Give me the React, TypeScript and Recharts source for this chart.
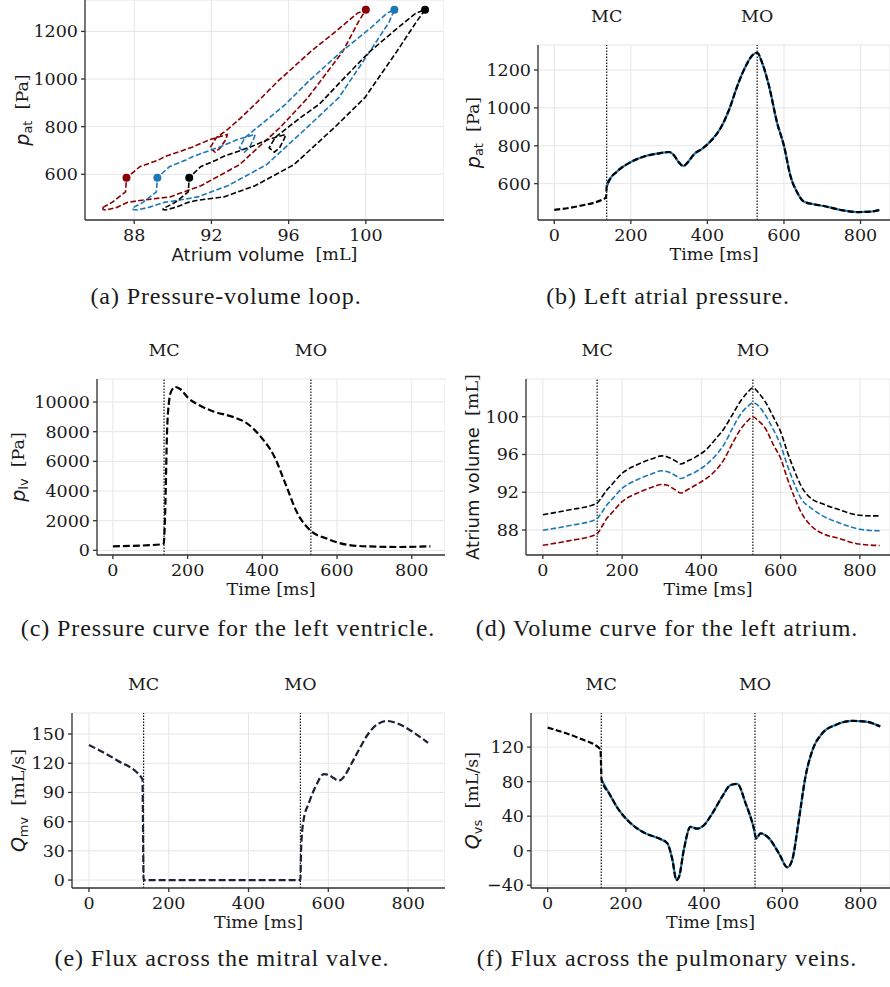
import React from "react";
import {
  LineChart,
  Line,
  XAxis,
  YAxis,
  CartesianGrid,
  ReferenceLine,
  ReferenceDot,
} from "recharts";

const SERIF = "'DejaVu Serif', serif";
const SANS = "'DejaVu Sans', sans-serif";
const CAPTION_FONT = "'Liberation Serif', 'Times New Roman', serif";
const INK = "#1a1a1a";
const RED = "#8b0000";
const BLUE = "#1f77b4";
const BLACK = "#000000";

// shared time grid (ms) for atrial pressure and atrial volume
const TIME = [
  0, 65, 135, 137, 148, 162, 170, 200, 239, 274, 300, 313, 326, 337, 348, 365,
  387, 413, 435, 457, 478, 500, 517, 530, 543, 561, 582, 600, 617, 635, 652,
  678, 704, 748, 792, 826, 850,
];
const P_AT = [
  461, 482, 526, 585, 632, 660, 675, 714, 746, 760, 767, 749, 711, 693, 711,
  755, 785, 834, 895, 992, 1115, 1220, 1277, 1291, 1238, 1115, 922, 800, 640,
  552, 505, 491, 482, 461, 450, 452, 461,
];
const VOL_BLACK = [
  89.62, 90.12, 90.8, 90.85, 91.44, 92.26, 92.62, 94.0, 94.94, 95.52, 95.85,
  95.77, 95.53, 95.26, 94.99, 95.31, 95.78, 96.55, 97.6, 98.73, 100.2, 101.73,
  102.6, 103.07, 102.6, 101.6, 99.95, 98.42, 96.27, 94.26, 92.65, 91.3, 90.8,
  90.15, 89.6, 89.5, 89.5,
];
const VOL_BLUE = [
  87.97, 88.45, 89.15, 89.2, 89.82, 90.68, 91.04, 92.4, 93.35, 93.94, 94.27,
  94.19, 93.96, 93.71, 93.45, 93.75, 94.2, 94.95, 95.85, 97.05, 98.73, 100.33,
  101.1, 101.48, 101.2, 100.2, 98.6, 97.0, 94.85, 92.85, 91.3, 90.3, 89.55,
  88.75, 88.15, 87.95, 87.92,
];
const VOL_RED = [
  86.38, 86.85, 87.55, 87.6, 88.29, 89.26, 89.62, 91.0, 91.93, 92.51, 92.82,
  92.77, 92.46, 92.19, 91.92, 92.27, 92.79, 93.48, 94.27, 95.46, 97.14, 98.74,
  99.57, 100.0, 99.6, 98.8, 97.0, 95.6, 93.45, 91.46, 89.85, 88.4, 87.66, 87.1,
  86.55, 86.4, 86.36,
];

// left ventricle pressure
const T_LV = [
  0, 131, 136, 140, 145, 150, 156, 167, 180, 202, 234, 269, 323, 358, 399, 430,
  465, 492, 528, 573, 626, 680, 769, 850,
];
const P_LV = [
  271, 406, 451, 2600, 8000, 9950, 10720, 11014, 10879, 10269, 9750, 9367,
  8983, 8577, 7561, 6432, 4288, 2596, 1354, 790, 384, 271, 226, 271,
];

// mitral valve flux
const T_MV = [
  0, 69, 134, 137, 530, 532, 538, 551, 568, 589, 601, 614, 626, 639, 656, 677,
  698, 723, 748, 773, 807, 850,
];
const Q_MV = [
  138.7, 123.3, 103.8, 0, 0, 34, 61.6, 78.8, 95.9, 108.9, 107.9, 104.5, 102,
  106, 118, 134, 149, 160, 163.4, 161, 153.4, 141,
];

// pulmonary vein flux
const T_VS = [
  0, 80, 135, 138, 157, 182, 208, 250, 284, 306, 319, 329, 336, 348, 365, 382,
  400, 421, 446, 468, 485, 506, 527, 533, 544, 566, 591, 613, 625, 642, 659,
  677, 702, 736, 779, 813, 850,
];
const Q_VS = [
  142.6, 130.3, 117.5, 82, 66.5, 47.2, 33.6, 20.1, 14.3, 8.5, -10.8, -34, -30,
  0.8, 27.5, 25.5, 29.8, 43.3, 62.6, 76.1, 77.3, 54.9, 25.9, 14.3, 20.1, 14.3,
  -3, -19.3, -10.8, 35.6, 85.8, 116.7, 136, 145.7, 150.3, 149.6, 143.8,
];

const MC = 137;
const MO = 530;
const MC_IDX = TIME.indexOf(MC);
const MO_IDX = TIME.indexOf(MO);

const TIME_TICKS = [0, 200, 400, 600, 800];
const VOL_TICKS = [88, 92, 96, 100];
const P_AT_TICKS = [600, 800, 1000, 1200];
const P_LV_TICKS = [0, 2000, 4000, 6000, 8000, 10000];
const Q_MV_TICKS = [0, 30, 60, 90, 120, 150];
const Q_VS_TICKS = [-40, 0, 40, 80, 120];

const loop = (vol: number[]) => TIME.map((_, i) => ({ v: vol[i], p: P_AT[i] }));
const atRows = TIME.map((t, i) => ({
  t,
  p: P_AT[i],
  after: t >= MC ? P_AT[i] : null,
}));
const volRows = TIME.map((t, i) => ({
  t,
  black: VOL_BLACK[i],
  blue: VOL_BLUE[i],
  red: VOL_RED[i],
}));
const lvRows = T_LV.map((t, i) => ({ t, p: P_LV[i] }));
const mvRows = T_MV.map((t, i) => ({ t, q: Q_MV[i] }));
const vsRows = T_VS.map((t, i) => ({
  t,
  q: Q_VS[i],
  after: t >= MC ? Q_VS[i] : null,
}));

const axisLine = { stroke: "#333", strokeWidth: 1.3 };
const minus = (v: number) => String(v).replace("-", "\u2212");

// tick labels drawn by hand so the serif font sticks
const xTick = (props: any) => (
  <text
    x={props.x}
    y={props.y + 6.5}
    textAnchor="middle"
    dominantBaseline="central"
    fontFamily={SERIF}
    fontSize={17.5}
    fill={INK}
  >
    {minus(props.payload.value)}
  </text>
);
const yTick = (props: any) => (
  <text
    x={props.x}
    y={props.y}
    textAnchor="end"
    dominantBaseline="central"
    fontFamily={SERIF}
    fontSize={17.5}
    fill={INK}
  >
    {minus(props.payload.value)}
  </text>
);

function yLabel(cx: number, parts: React.ReactNode) {
  return (props: any) => {
    const vb = props.viewBox;
    const x = vb.x + cx;
    const y = vb.y + vb.height / 2;
    return (
      <text
        x={x}
        y={y}
        transform={`rotate(-90 ${x} ${y})`}
        textAnchor="middle"
        dominantBaseline="central"
        fill={INK}
      >
        {parts}
      </text>
    );
  };
}

function xLabel(parts: React.ReactNode) {
  return (props: any) => {
    const vb = props.viewBox;
    return (
      <text
        x={vb.x + vb.width / 2}
        y={vb.y + 34}
        textAnchor="middle"
        dominantBaseline="central"
        fill={INK}
      >
        {parts}
      </text>
    );
  };
}

const timeText = (
  <tspan fontFamily={SERIF} fontSize={17.5}>
    Time [ms]
  </tspan>
);

function symLabel(sym: string, sub: string, unit: string) {
  return (
    <>
      <tspan fontFamily={SANS} fontStyle="italic" fontSize={19}>
        {sym}
      </tspan>
      <tspan fontFamily={SANS} fontSize={13} dy={5}>
        {sub}
      </tspan>
      <tspan fontFamily={SERIF} fontSize={17.5} dy={-5}>
        {"\u00a0\u00a0" + unit}
      </tspan>
    </>
  );
}

const volumeText = (
  <>
    <tspan fontFamily={SANS} fontSize={18}>
      Atrium volume
    </tspan>
    <tspan fontFamily={SERIF} fontSize={17.5}>
      {"\u00a0\u00a0[mL]"}
    </tspan>
  </>
);

const markerLabel = (value: string) => ({
  value,
  position: "top" as const,
  offset: 23,
  fill: INK,
  fontSize: 17.5,
  fontFamily: SERIF,
});

interface TimePanelProps {
  x: number;
  y: number;
  plotW: number;
  plotH: number;
  yAxisW: number;
  labelX: number;
  xMax: number;
  yDomain: [number, number];
  yTicks: number[];
  data: object[];
  label: React.ReactNode;
  children: React.ReactNode;
}

function TimePanel({
  x,
  y,
  plotW,
  plotH,
  yAxisW,
  labelX,
  xMax,
  yDomain,
  yTicks,
  data,
  label,
  children,
}: TimePanelProps) {
  const top = 45;
  return (
    <div style={{ position: "absolute", left: x - yAxisW, top: y - top }}>
      <LineChart
        width={yAxisW + plotW}
        height={top + plotH + 52}
        data={data}
        margin={{ top, right: 0, bottom: 0, left: 0 }}
      >
        <CartesianGrid stroke="#e6e6e6" />
        <XAxis
          dataKey="t"
          type="number"
          domain={[-42.5, xMax]}
          ticks={TIME_TICKS}
          interval={0}
          allowDataOverflow
          height={52}
          axisLine={axisLine}
          tickLine={axisLine}
          tickSize={4}
          tickMargin={4}
          tick={xTick}
          label={xLabel(timeText)}
        />
        <YAxis
          type="number"
          domain={yDomain}
          ticks={yTicks}
          interval={0}
          allowDataOverflow
          width={yAxisW}
          axisLine={axisLine}
          tickLine={axisLine}
          tickSize={4}
          tickMargin={3}
          tick={yTick}
          label={yLabel(labelX, label)}
        />
        <ReferenceLine
          x={MC}
          stroke="#111"
          strokeWidth={1.2}
          strokeDasharray="1.5 1.5"
          label={markerLabel("MC")}
        />
        <ReferenceLine
          x={MO}
          stroke="#111"
          strokeWidth={1.2}
          strokeDasharray="1.5 1.5"
          label={markerLabel("MO")}
        />
        {children}
      </LineChart>
    </div>
  );
}

function Caption({ cx, cy, text }: { cx: number; cy: number; text: string }) {
  return (
    <div
      style={{
        position: "absolute",
        left: cx - 300,
        width: 600,
        top: cy - 16,
        height: 32,
        lineHeight: "32px",
        textAlign: "center",
        fontFamily: CAPTION_FONT,
        fontSize: 24,
        letterSpacing: 0.9,
        color: INK,
        whiteSpace: "nowrap",
      }}
    >
      {text}
    </div>
  );
}

const loopLine = (vol: number[], color: string) => (
  <Line
    key={color}
    data={loop(vol)}
    dataKey="p"
    type="linear"
    stroke={color}
    strokeWidth={1.6}
    strokeDasharray="5.5 2.4"
    dot={false}
    activeDot={false}
    isAnimationActive={false}
  />
);

const dash = (key: string, color: string, width = 1.6, pattern = "5.5 2.4") => (
  <Line
    key={key + color}
    dataKey={key}
    type="monotone"
    stroke={color}
    strokeWidth={width}
    strokeDasharray={pattern}
    dot={false}
    activeDot={false}
    isAnimationActive={false}
  />
);

const solid = (key: string, color: string) => (
  <Line
    key={key + "solid"}
    dataKey={key}
    type="monotone"
    stroke={color}
    strokeWidth={2.2}
    dot={false}
    activeDot={false}
    isAnimationActive={false}
  />
);

export default function App() {
  const loops: [number[], string][] = [
    [VOL_RED, RED],
    [VOL_BLUE, BLUE],
    [VOL_BLACK, BLACK],
  ];
  return (
    <div
      style={{
        position: "absolute",
        left: 0,
        top: 0,
        width: 890,
        height: 987,
        background: "#fff",
        overflow: "hidden",
      }}
    >
      {/* (a) pressure-volume loops */}
      <div style={{ position: "absolute", left: 0, top: 0 }}>
        <LineChart
          width={444}
          height={272}
          margin={{ top: 0, right: 0, bottom: 0, left: 0 }}
        >
          <CartesianGrid stroke="#e6e6e6" />
          <XAxis
            dataKey="v"
            type="number"
            domain={[85.45, 104.05]}
            ticks={VOL_TICKS}
            interval={0}
            allowDataOverflow
            height={52}
            axisLine={axisLine}
            tickLine={axisLine}
            tickSize={4}
            tickMargin={4}
            tick={xTick}
            label={xLabel(volumeText)}
          />
          <YAxis
            type="number"
            domain={[408, 1332]}
            ticks={P_AT_TICKS}
            interval={0}
            allowDataOverflow
            width={85}
            axisLine={axisLine}
            tickLine={axisLine}
            tickSize={4}
            tickMargin={3}
            tick={yTick}
            label={yLabel(22, symLabel("p", "at", "[Pa]"))}
          />
          {loops.map(([vol, color]) => loopLine(vol, color))}
          {loops.map(([vol, color]) => (
            <ReferenceDot
              key={"mc" + color}
              x={vol[MC_IDX]}
              y={P_AT[MC_IDX]}
              r={4}
              fill={color}
              stroke="none"
            />
          ))}
          {loops.map(([vol, color]) => (
            <ReferenceDot
              key={"mo" + color}
              x={vol[MO_IDX]}
              y={P_AT[MO_IDX]}
              r={4}
              fill={color}
              stroke="none"
            />
          ))}
        </LineChart>
      </div>

      {/* (b) left atrial pressure */}
      <TimePanel
        x={538}
        y={45}
        plotW={352}
        plotH={175}
        yAxisW={85}
        labelX={20}
        xMax={877}
        yDomain={[408, 1332]}
        yTicks={P_AT_TICKS}
        data={atRows}
        label={symLabel("p", "at", "[Pa]")}
      >
        {solid("after", BLUE)}
        {dash("p", BLACK, 2.2, "6 2.5")}
      </TimePanel>

      {/* (c) left ventricle pressure */}
      <TimePanel
        x={97}
        y={379}
        plotW={348}
        plotH={176}
        yAxisW={97}
        labelX={18}
        xMax={889}
        yDomain={[-313, 11553]}
        yTicks={P_LV_TICKS}
        data={lvRows}
        label={symLabel("p", "lv", "[Pa]")}
      >
        {dash("p", BLACK, 2.2, "7 3")}
      </TimePanel>

      {/* (d) atrial volume */}
      <TimePanel
        x={526}
        y={379}
        plotW={364}
        plotH={176}
        yAxisW={81}
        labelX={27}
        xMax={876}
        yDomain={[85.35, 104.0]}
        yTicks={VOL_TICKS}
        data={volRows}
        label={volumeText}
      >
        {dash("red", RED)}
        {dash("blue", BLUE)}
        {dash("black", BLACK)}
      </TimePanel>

      {/* (e) mitral valve flux */}
      <TimePanel
        x={72}
        y={713}
        plotW={373}
        plotH={175}
        yAxisW={72}
        labelX={18}
        xMax={892.5}
        yDomain={[-8.17, 171.6]}
        yTicks={Q_MV_TICKS}
        data={mvRows}
        label={symLabel("Q", "mv", "[mL/s]")}
      >
        {dash("q", "#1c2236", 2.2, "7 3")}
      </TimePanel>

      {/* (f) pulmonary vein flux */}
      <TimePanel
        x={531}
        y={713}
        plotW={359}
        plotH={175}
        yAxisW={86}
        labelX={27}
        xMax={875}
        yDomain={[-43.2, 159.5]}
        yTicks={Q_VS_TICKS}
        data={vsRows}
        label={symLabel("Q", "vs", "[mL/s]")}
      >
        {solid("after", BLUE)}
        {dash("q", BLACK, 2.2, "6 2.5")}
      </TimePanel>

      <Caption cx={226} cy={296} text="(a) Pressure-volume loop." />
      <Caption cx={668} cy={296} text="(b) Left atrial pressure." />
      <Caption cx={228} cy={628} text="(c) Pressure curve for the left ventricle." />
      <Caption cx={667} cy={628} text="(d) Volume curve for the left atrium." />
      <Caption cx={222} cy={958} text="(e) Flux across the mitral valve." />
      <Caption cx={667} cy={958} text="(f) Flux across the pulmonary veins." />
    </div>
  );
}
